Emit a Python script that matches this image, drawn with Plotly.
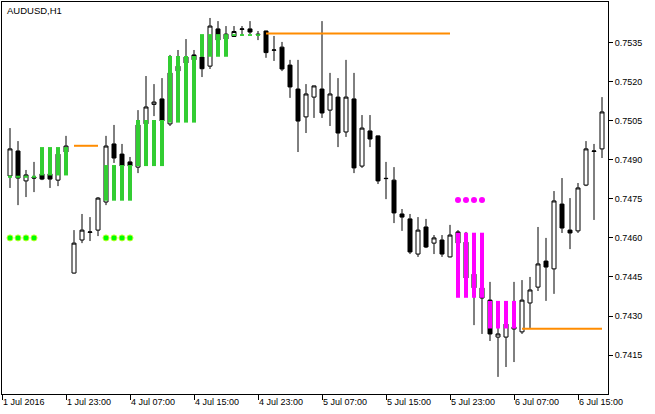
import plotly.graph_objects as go

# ---------------- data (AUDUSD H1, bar index 0..74) ----------------
open_ = [0.74838, 0.74934, 0.74819, 0.74834, 0.74846, 0.74846, 0.74822, 0.74930, 0.74465, 0.74592,
         0.74621, 0.74630, 0.74738, 0.74961, 0.74922, 0.74892, 0.74872, 0.75038, 0.75113, 0.75134,
         0.75038, 0.75260, 0.75272, 0.75303, 0.75295, 0.75260, 0.75403, 0.75383, 0.75374, 0.75401,
         0.75403, 0.75383, 0.75395, 0.75321, 0.75333, 0.75264, 0.75172, 0.75065, 0.75141, 0.75172,
         0.75091, 0.75141, 0.75007, 0.75134, 0.74876, 0.75011, 0.74992, 0.74829, 0.74822, 0.74692,
         0.74673, 0.74538, 0.74642, 0.74580, 0.74592, 0.74527, 0.74623, 0.74584, 0.74461, 0.74408,
         0.74361, 0.74219, 0.74219, 0.74250, 0.74239, 0.74350, 0.74411, 0.74511, 0.74481, 0.74730,
         0.74630, 0.74627, 0.74803, 0.74932, 0.74942]
high_ = [0.75022, 0.74972, 0.74861, 0.74892, 0.74853, 0.74861, 0.74930, 0.74992, 0.74630, 0.74692,
         0.74680, 0.74757, 0.74992, 0.75034, 0.74961, 0.74911, 0.75091, 0.75222, 0.75191, 0.75214,
         0.75303, 0.75322, 0.75364, 0.75322, 0.75322, 0.75445, 0.75433, 0.75414, 0.75414, 0.75414,
         0.75433, 0.75395, 0.75396, 0.75376, 0.75353, 0.75284, 0.75284, 0.75191, 0.75185, 0.75433,
         0.75234, 0.75214, 0.75284, 0.75234, 0.75072, 0.75072, 0.74993, 0.74892, 0.74872, 0.74711,
         0.74692, 0.74680, 0.74673, 0.74611, 0.74611, 0.74650, 0.74630, 0.74623, 0.74477, 0.74419,
         0.74431, 0.74262, 0.74292, 0.74431, 0.74438, 0.74450, 0.74642, 0.74600, 0.74780, 0.74830,
         0.74753, 0.74811, 0.74972, 0.74961, 0.75141]
low_ = [0.74792, 0.74726, 0.74757, 0.74776, 0.74822, 0.74792, 0.74799, 0.74922, 0.74463, 0.74580,
        0.74588, 0.74607, 0.74726, 0.74888, 0.74869, 0.74869, 0.74849, 0.75030, 0.75068, 0.75041,
        0.75030, 0.75230, 0.75264, 0.75276, 0.75218, 0.75249, 0.75353, 0.75360, 0.75372, 0.75376,
        0.75383, 0.75360, 0.75292, 0.75280, 0.75241, 0.75138, 0.74930, 0.75003, 0.75061, 0.75061,
        0.75030, 0.74949, 0.74988, 0.74849, 0.74869, 0.74949, 0.74807, 0.74749, 0.74657, 0.74627,
        0.74538, 0.74527, 0.74561, 0.74538, 0.74527, 0.74525, 0.74573, 0.74438, 0.74265, 0.74231,
        0.74204, 0.74066, 0.74104, 0.74123, 0.74231, 0.74254, 0.74396, 0.74358, 0.74385, 0.74619,
        0.74557, 0.74619, 0.74799, 0.74669, 0.74907]
close_ = [0.74942, 0.74830, 0.74842, 0.74830, 0.74826, 0.74826, 0.74922, 0.74953, 0.74580, 0.74630,
          0.74623, 0.74753, 0.74953, 0.74907, 0.74876, 0.74876, 0.75034, 0.75103, 0.75122, 0.75049,
          0.75234, 0.75241, 0.75295, 0.75284, 0.75250, 0.75414, 0.75360, 0.75364, 0.75393, 0.75403,
          0.75391, 0.75381, 0.75312, 0.75322, 0.75249, 0.75180, 0.75049, 0.75153, 0.75184, 0.75080,
          0.75153, 0.75003, 0.75141, 0.74869, 0.75022, 0.74980, 0.74819, 0.74828, 0.74696, 0.74680,
          0.74546, 0.74630, 0.74565, 0.74600, 0.74538, 0.74611, 0.74580, 0.74446, 0.74408, 0.74369,
          0.74231, 0.74231, 0.74269, 0.74258, 0.74361, 0.74400, 0.74500, 0.74488, 0.74742, 0.74638,
          0.74619, 0.74792, 0.74942, 0.74934, 0.75084]

# indicator: bullish range boxes
up_idx = [0, 1, 2, 3, 4, 5, 6, 7, 12, 13, 14, 15, 16, 17, 18, 19,
          20, 21, 22, 23, 24, 25, 26, 27, 28, 29, 30, 31]
up_top = [0.74839, 0.74839, 0.74839, 0.74839, 0.74949, 0.74949, 0.74949, 0.74949,
          0.74880, 0.74880, 0.74880, 0.74880, 0.75053, 0.75053, 0.75053, 0.75053,
          0.75299, 0.75299, 0.75299, 0.75299, 0.75383, 0.75383, 0.75383, 0.75383,
          0.75383, 0.75383, 0.75383, 0.75383]
up_bot = [0.74831, 0.74831, 0.74831, 0.74831, 0.74840, 0.74840, 0.74840, 0.74840,
          0.74743, 0.74743, 0.74743, 0.74743, 0.74876, 0.74876, 0.74876, 0.74876,
          0.75043, 0.75043, 0.75043, 0.75043, 0.75296, 0.75296, 0.75296, 0.75296,
          0.75376, 0.75376, 0.75376, 0.75376]
# bearish range boxes
dn_idx = [56, 57, 58, 59, 60, 61, 62, 63]
dn_top = [0.74620, 0.74620, 0.74620, 0.74620, 0.74358, 0.74358, 0.74358, 0.74358]
dn_bot = [0.74370, 0.74370, 0.74370, 0.74370, 0.74252, 0.74252, 0.74252, 0.74252]
# signal dots
up_dot_idx = [0, 1, 2, 3, 12, 13, 14, 15]
up_dot_val = [0.74600, 0.74600, 0.74600, 0.74600, 0.74600, 0.74600, 0.74600, 0.74600]
dn_dot_idx = [56, 57, 58, 59]
dn_dot_val = [0.74746, 0.74746, 0.74746, 0.74746]
# stop levels (start bar, end bar, price)
stop_start = [8, 32, 64]
stop_end = [11, 55, 74]
stop_val = [0.74954, 0.75385, 0.74251]

# axis labels
x_tick_idx = [-1, 7, 15, 23, 31, 39, 47, 55, 63, 71]
x_tick_text = ["1 Jul 2016", "1 Jul 23:00", "4 Jul 07:00", "4 Jul 15:00", "4 Jul 23:00",
               "5 Jul 07:00", "5 Jul 15:00", "5 Jul 23:00", "6 Jul 07:00", "6 Jul 15:00"]
y_ticks = [0.7415, 0.7430, 0.7445, 0.7460, 0.7475, 0.7490, 0.7505, 0.7520, 0.7535]

FONT = "Liberation Sans"

# ---------------- figure ----------------
idx = list(range(len(open_)))
fig = go.Figure()

fig.add_trace(go.Candlestick(
    x=idx, open=open_, high=high_, low=low_, close=close_,
    increasing=dict(line=dict(color="black", width=1), fillcolor="white"),
    decreasing=dict(line=dict(color="black", width=1), fillcolor="black"),
    whiskerwidth=0, showlegend=False, hoverinfo="skip"))


def seg_xy(ix, top, bot):
    xs, ys = [], []
    for i, t, b in zip(ix, top, bot):
        xs += [i, i, None]
        ys += [b, t, None]
    return xs, ys


ux, uy = seg_xy(up_idx, up_top, up_bot)
fig.add_trace(go.Scatter(x=ux, y=uy, mode="lines",
                         line=dict(color="#32CD32", width=4), showlegend=False, hoverinfo="skip"))
dx, dy = seg_xy(dn_idx, dn_top, dn_bot)
fig.add_trace(go.Scatter(x=dx, y=dy, mode="lines",
                         line=dict(color="#FF00FF", width=4), showlegend=False, hoverinfo="skip"))

sx, sy = [], []
for s, e, v in zip(stop_start, stop_end, stop_val):
    sx += [s, e, None]
    sy += [v, v, None]
fig.add_trace(go.Scatter(x=sx, y=sy, mode="lines",
                         line=dict(color="#FF8C00", width=2), showlegend=False, hoverinfo="skip"))

fig.add_trace(go.Scatter(x=up_dot_idx, y=up_dot_val, mode="markers",
                         marker=dict(color="#00FF00", size=6, line=dict(color="#B8FF30", width=1)),
                         showlegend=False, hoverinfo="skip"))
fig.add_trace(go.Scatter(x=dn_dot_idx, y=dn_dot_val, mode="markers",
                         marker=dict(color="#FF00FF", size=6, line=dict(width=0)),
                         showlegend=False, hoverinfo="skip"))

annotations = []
for v, t in zip(x_tick_idx, x_tick_text):
    annotations.append(dict(x=v, xref="x", y=0, yref="paper", text=t, showarrow=False,
                            xanchor="left", yanchor="top", yshift=-1, xshift=-1,
                            font=dict(family=FONT, size=9, color="black")))
annotations.append(dict(x=0, xref="paper", y=1, yref="paper", text="AUDUSD,H1", showarrow=False,
                        xanchor="left", yanchor="top", xshift=3, yshift=-1,
                        font=dict(family=FONT, size=9.5, color="black")))

fig.update_layout(
    width=655, height=414,
    margin=dict(l=2, r=47, t=2, b=20),
    paper_bgcolor="white", plot_bgcolor="white",
    boxgap=0.5, boxgroupgap=0,
    annotations=annotations,
    xaxis=dict(range=[-1, 74.75], showgrid=False, zeroline=False,
               rangeslider=dict(visible=False),
               tickmode="array", tickvals=x_tick_idx, showticklabels=False,
               ticks="outside", ticklen=5, tickcolor="black", tickwidth=1,
               showline=True, linecolor="black", linewidth=1, mirror=True),
    yaxis=dict(range=[0.740003, 0.755064], side="right", showgrid=False, zeroline=False,
               tickmode="array", tickvals=y_ticks, tickformat=".4f",
               ticks="outside", ticklen=4, tickcolor="black", tickwidth=1,
               tickfont=dict(family=FONT, size=9, color="black"),
               showline=True, linecolor="black", linewidth=1, mirror=True),
)

fig.write_html("out.html", config={"displayModeBar": False},
               post_script="document.body.style.margin='0px';document.body.style.overflow='hidden';")
